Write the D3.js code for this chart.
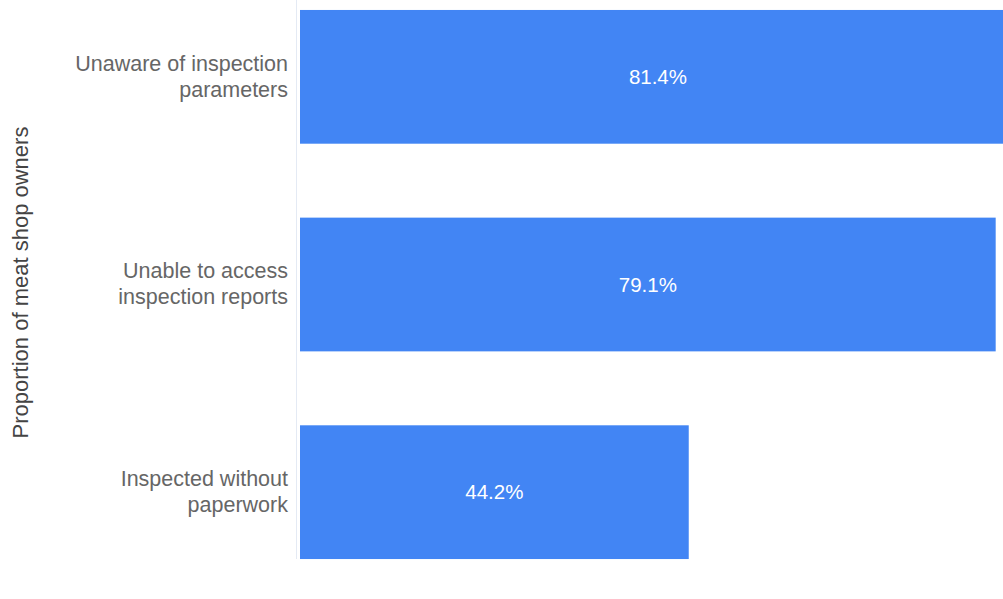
<!DOCTYPE html>
<html>
<head>
<meta charset="utf-8">
<script src="https://cdn.jsdelivr.net/npm/d3@7"></script>
<style>
  html, body { margin: 0; padding: 0; background: #fff; }
  svg { display: block; }
  text { font-family: "Liberation Sans", Arial, Helvetica, sans-serif; }
</style>
</head>
<body>
<svg id="chart" width="1003" height="599"></svg>
<script>
// Survey results: share of meat shop owners by issue
const categories = [
  ["Unaware of inspection", "parameters"],
  ["Unable to access", "inspection reports"],
  ["Inspected without", "paperwork"]
];
const values = [81.4, 79.1, 44.2];
const axisTitle = "Proportion of meat shop owners";

const width = 1003, height = 599;
const svg = d3.select("#chart");

const keys = categories.map(c => c.join(" "));
const data = keys.map((k, i) => ({ key: k, lines: categories[i], value: values[i] }));

const x = d3.scaleLinear().domain([0, 100]).range([300, 1179.5]);
const y = d3.scaleBand().domain(keys).range([-27, 596]).paddingInner(0.356).paddingOuter(0.178);

// faint category axis line
svg.append("line")
  .attr("x1", x(0) - 3.5).attr("x2", x(0) - 3.5)
  .attr("y1", 0).attr("y2", y(keys[keys.length - 1]) + y.bandwidth())
  .attr("stroke", "#e4eaf4")
  .attr("stroke-width", 1);

// bars
svg.append("g").selectAll("rect").data(data).join("rect")
  .attr("x", x(0))
  .attr("y", d => y(d.key))
  .attr("width", d => x(d.value) - x(0))
  .attr("height", y.bandwidth())
  .attr("fill", "#4285f4");

// value labels inside bars
svg.append("g").selectAll("text").data(data).join("text")
  .attr("x", d => (x(0) + x(d.value)) / 2)
  .attr("y", d => y(d.key) + y.bandwidth() / 2)
  .attr("dy", "0.35em")
  .attr("text-anchor", "middle")
  .attr("fill", "#ffffff")
  .attr("font-size", 20.5)
  .text(d => d.value.toFixed(1) + "%");

// category labels
const yAxis = d3.axisLeft(y).tickSize(0).tickFormat(() => "");
const ag = svg.append("g").attr("transform", `translate(${x(0)},0)`).call(yAxis);
ag.select(".domain").remove();

ag.selectAll(".tick").each(function(d, i) {
  const t = d3.select(this).select("text")
    .attr("x", -12)
    .attr("dy", null)
    .attr("y", 0)
    .attr("text-anchor", "end")
    .attr("fill", "#666666")
    .attr("font-size", 21.5);
  const lines = categories[i];
  const lh = 26;
  lines.forEach((ln, j) => {
    t.append("tspan")
      .attr("x", -12)
      .attr("y", -0.75 + (j - (lines.length - 1) / 2) * lh)
      .attr("dy", "0.35em")
      .text(ln);
  });
});

// axis title
svg.append("text")
  .attr("transform", `translate(28,${(y.range()[0] + y.range()[1]) / 2 - 2}) rotate(-90)`)
  .attr("text-anchor", "middle")
  .attr("fill", "#444444")
  .attr("font-size", 22)
  .text(axisTitle);
</script>
</body>
</html>
